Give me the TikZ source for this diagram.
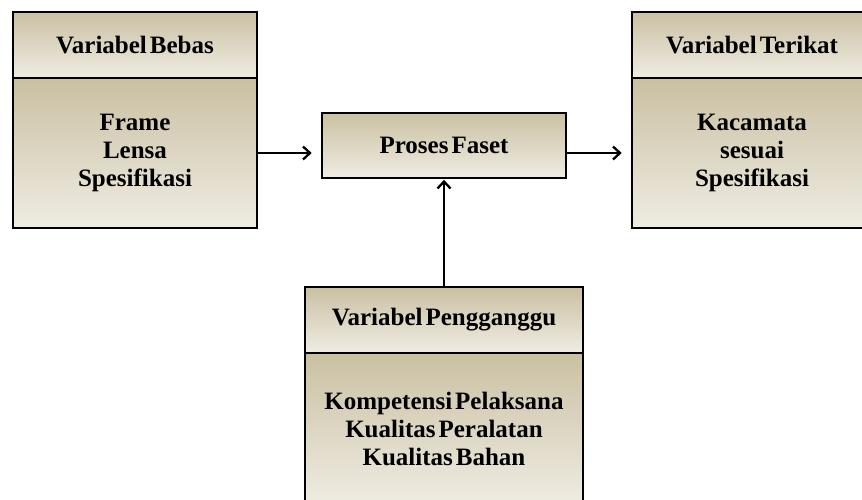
\documentclass[tikz,border=0pt]{standalone}
\usepackage{fontspec}
\setmainfont{Liberation Serif}
\usetikzlibrary{arrows.meta}
\definecolor{tantop}{RGB}{202,192,162}
\definecolor{tanbot}{RGB}{239,236,227}
\newcommand{\boxfont}{\fontsize{25}{28}\selectfont\bfseries\spaceskip=3pt\relax}
\begin{document}
\begin{tikzpicture}[x=1pt,y=1pt,
  box/.style={draw=black,line width=2.6pt,top color=tantop,bottom color=tanbot,
    align=center,inner sep=0pt,font=\boxfont,text=black},
  arr/.style={line width=2.3pt,-{Straight Barb[length=7pt,width=13pt,line width=2.3pt]}}]
\useasboundingbox (0,0) rectangle (862,-499);
\clip (0,0) rectangle (862,-499);
\fill[white] (0,0) rectangle (862,-499);
% left
\node[box,minimum width=244pt,minimum height=150pt] (lb) at (135,-153) {Frame\\Lensa\\Spesifikasi};
\node[box,minimum width=244pt,minimum height=66pt] (lh) at (135,-45) {Variabel Bebas};
% right
\node[box,minimum width=240pt,minimum height=150pt] (rb) at (752,-153) {Kacamata\\sesuai\\Spesifikasi};
\node[box,minimum width=240pt,minimum height=66pt] (rh) at (752,-45) {Variabel Terikat};
% middle
\node[box,minimum width=244pt,minimum height=65pt] (pf) at (444,-145.5) {Proses Faset};
% bottom
\node[box,minimum width=278pt,minimum height=152pt] (bb) at (444,-429) {Kompetensi Pelaksana\\Kualitas Peralatan\\Kualitas Bahan};
\node[box,minimum width=278pt,minimum height=66pt] (bh) at (444,-320) {Variabel Pengganggu};
% arrows
\draw[arr,shorten >=9pt] (lb.east) -- (pf.west |- lb.east);
\draw[arr,shorten >=9pt] (pf.east |- rb.west) -- (rb.west);
\draw[arr,shorten >=0.5pt] (bh.north) -- (pf.south);
\end{tikzpicture}
\end{document}
